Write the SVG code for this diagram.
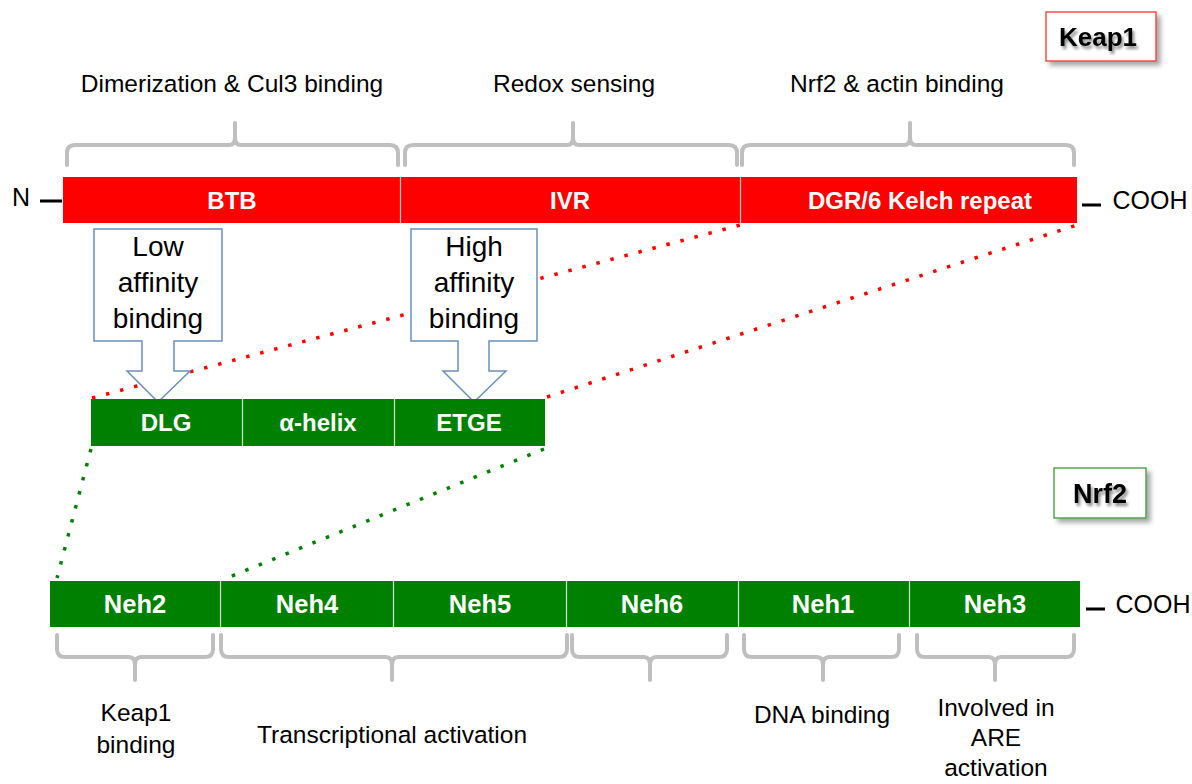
<svg xmlns="http://www.w3.org/2000/svg" width="1192" height="784" viewBox="0 0 1192 784">
<defs>
<filter id="sh" x="-20%" y="-20%" width="150%" height="160%">
<feGaussianBlur in="SourceAlpha" stdDeviation="2.5"/>
<feOffset dx="4" dy="4" result="b"/>
<feComponentTransfer><feFuncA type="linear" slope="0.35"/></feComponentTransfer>
<feMerge><feMergeNode/><feMergeNode in="SourceGraphic"/></feMerge>
</filter>
<filter id="tsh" x="-20%" y="-30%" width="150%" height="170%">
<feGaussianBlur in="SourceAlpha" stdDeviation="1.5"/>
<feOffset dx="2" dy="3"/>
<feComponentTransfer><feFuncA type="linear" slope="0.45"/></feComponentTransfer>
<feMerge><feMergeNode/><feMergeNode in="SourceGraphic"/></feMerge>
</filter>
</defs>
<style>
text{font-family:"Liberation Sans","Open Sans",Arial,sans-serif;}
.lbl{font-size:24.5px;fill:#000;text-anchor:middle;}
.bw{font-size:24px;font-weight:bold;fill:#fff;text-anchor:middle;}
.nb{font-size:25.5px;}
.red{fill:#FF0000;}
.grn{fill:#008000;}
.sep{stroke:#fff;stroke-width:1.2;opacity:0.8;}
.brace{fill:none;stroke:#BFBFBF;stroke-width:4;stroke-linecap:round;stroke-linejoin:round;}
.callout{fill:#fff;stroke:#6C8EBF;stroke-width:1.5;}
.ct{font-size:28px;fill:#000;text-anchor:middle;}
.rdot{fill:none;stroke:#FF0000;stroke-width:3.5;stroke-dasharray:3.5 11;}
.gdot{fill:none;stroke:#008000;stroke-width:3.5;stroke-dasharray:3.5 11;}
.tick{stroke:#000;stroke-width:3;}
.end{font-size:25px;fill:#000;text-anchor:middle;}
</style>
<rect width="1192" height="784" fill="#fff"/>

<g id="keap1-title">
<rect x="1046" y="12" width="110" height="49" fill="#fff" stroke="#FF3030" stroke-width="1.3" filter="url(#sh)"/>
<text x="1098" y="46" font-size="26" font-weight="bold" text-anchor="middle" filter="url(#tsh)">Keap1</text>
</g>

<g id="keap1-braces">
<path class="brace" d="M67 165 V153 Q67 145 75 145 H229 Q235 145 235 137 V123 M235 123 V137 Q235 145 241 145 H390 Q398 145 398 153 V165"/>
<path class="brace" d="M405 165 V153 Q405 145 413 145 H567 Q573 145 573 137 V123 M573 123 V137 Q573 145 579 145 H729 Q737 145 737 153 V165"/>
<path class="brace" d="M742 165 V153 Q742 145 750 145 H904 Q910 145 910 137 V123 M910 123 V137 Q910 145 916 145 H1066 Q1074 145 1074 153 V165"/>
<text class="lbl" x="232" y="92">Dimerization &amp; Cul3 binding</text>
<text class="lbl" x="574" y="92">Redox sensing</text>
<text class="lbl" x="897" y="92">Nrf2 &amp; actin binding</text>
</g>

<g id="keap1-bar">
<text class="end" x="21" y="206">N</text>
<line class="tick" x1="40" y1="201" x2="62" y2="201"/>
<rect class="red" x="63" y="177" width="1014" height="46"/>
<line class="sep" x1="400.5" y1="177" x2="400.5" y2="223"/>
<line class="sep" x1="740.5" y1="177" x2="740.5" y2="223"/>
<text class="bw" x="232" y="209">BTB</text>
<text class="bw" x="570" y="209">IVR</text>
<text class="bw" x="920" y="209">DGR/6 Kelch repeat</text>
<line class="tick" x1="1082" y1="205" x2="1101" y2="205"/>
<text class="end" x="1150" y="209">COOH</text>
</g>

<g id="connectors">
<line class="rdot" x1="92" y1="398" x2="744" y2="224"/>
<line class="rdot" x1="547" y1="397" x2="1077" y2="225"/>
<line class="gdot" x1="91" y1="449" x2="57" y2="578"/>
<line class="gdot" x1="544" y1="449" x2="227" y2="578"/>
</g>

<g id="low-affinity">
<path class="callout" d="M94 229 H222 V341 H174 V371 H190 L158 402 L127 371 H142 V341 H94 Z"/>
<text class="ct" x="158" y="256">Low</text>
<text class="ct" x="158" y="292">affinity</text>
<text class="ct" x="158" y="328">binding</text>
</g>

<g id="high-affinity">
<path class="callout" d="M411 229 H537 V341 H489 V371 H506 L474 402 L443 371 H458 V341 H411 Z"/>
<text class="ct" x="474" y="256">High</text>
<text class="ct" x="474" y="292">affinity</text>
<text class="ct" x="474" y="328">binding</text>
</g>

<g id="nrf2-motifs">
<rect class="grn" x="91" y="399" width="454" height="47"/>
<line class="sep" x1="242.5" y1="399" x2="242.5" y2="446"/>
<line class="sep" x1="394.5" y1="399" x2="394.5" y2="446"/>
<text class="bw" x="166" y="431">DLG</text>
<text class="bw" x="318" y="431">α-helix</text>
<text class="bw" x="469" y="431">ETGE</text>
</g>

<g id="nrf2-title">
<rect x="1054" y="468" width="92" height="50" fill="#fff" stroke="#3A9A3A" stroke-width="1.3" filter="url(#sh)"/>
<text x="1100" y="503" font-size="27" font-weight="bold" text-anchor="middle" filter="url(#tsh)">Nrf2</text>
</g>

<g id="nrf2-bar">
<rect class="grn" x="50" y="581" width="1030" height="46"/>
<line class="sep" x1="220.5" y1="581" x2="220.5" y2="627"/>
<line class="sep" x1="393.5" y1="581" x2="393.5" y2="627"/>
<line class="sep" x1="566.5" y1="581" x2="566.5" y2="627"/>
<line class="sep" x1="738.5" y1="581" x2="738.5" y2="627"/>
<line class="sep" x1="909.5" y1="581" x2="909.5" y2="627"/>
<text class="bw nb" x="135" y="613">Neh2</text>
<text class="bw nb" x="307" y="613">Neh4</text>
<text class="bw nb" x="480" y="613">Neh5</text>
<text class="bw nb" x="652" y="613">Neh6</text>
<text class="bw nb" x="823" y="613">Neh1</text>
<text class="bw nb" x="995" y="613">Neh3</text>
<line class="tick" x1="1086" y1="609" x2="1105" y2="609"/>
<text class="end" x="1153" y="613">COOH</text>
</g>

<g id="nrf2-braces">
<path class="brace" d="M57 635 V649 Q57 657 65 657 H129 Q135 657 135 665 V680 M135 680 V665 Q135 657 141 657 H205 Q213 657 213 649 V635"/>
<path class="brace" d="M221 635 V649 Q221 657 229 657 H386 Q392 657 392 665 V680 M392 680 V665 Q392 657 398 657 H559 Q567 657 567 649 V635"/>
<path class="brace" d="M572 635 V649 Q572 657 580 657 H644 Q650 657 650 665 V680 M650 680 V665 Q650 657 656 657 H719 Q727 657 727 649 V635"/>
<path class="brace" d="M744 635 V649 Q744 657 752 657 H817 Q823 657 823 665 V680 M823 680 V665 Q823 657 829 657 H891 Q899 657 899 649 V635"/>
<path class="brace" d="M917 635 V649 Q917 657 925 657 H989 Q995 657 995 665 V680 M995 680 V665 Q995 657 1001 657 H1066 Q1074 657 1074 649 V635"/>
<text class="lbl" x="136" y="721">Keap1</text>
<text class="lbl" x="136" y="753">binding</text>
<text class="lbl" x="392" y="743">Transcriptional activation</text>
<text class="lbl" x="822" y="723">DNA binding</text>
<text class="lbl" x="996" y="716">Involved in</text>
<text class="lbl" x="996" y="746">ARE</text>
<text class="lbl" x="996" y="776">activation</text>
</g>
</svg>
